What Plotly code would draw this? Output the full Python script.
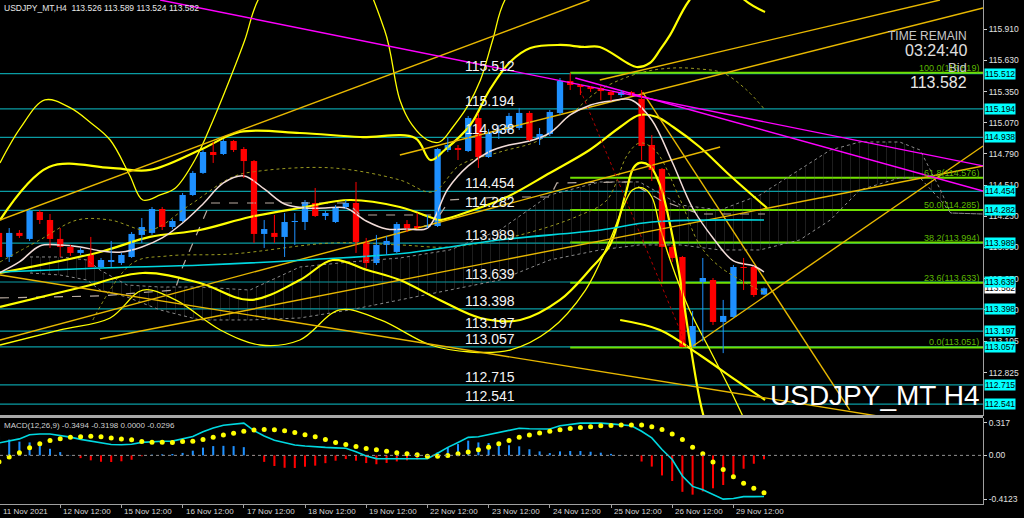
import plotly.graph_objects as go

# ---------------- data ----------------
bar_idx = list(range(76))
opens = [114.080, 113.864, 114.080, 114.026, 114.268, 114.196, 114.026, 113.954, 113.900, 113.882,
         113.774, 113.819, 113.810, 113.864, 114.062, 114.080, 114.295, 114.133, 114.187, 114.421,
         114.619, 114.807, 114.789, 114.906, 114.834, 114.726, 114.071, 114.080, 114.044, 114.178,
         114.178, 114.349, 114.232, 114.178, 114.313, 114.349, 113.999, 113.810, 113.972, 113.909,
         114.160, 114.142, 114.133, 114.142, 114.825, 114.843, 114.816, 115.113, 114.762, 114.978,
         115.005, 115.023, 115.158, 114.924, 114.969, 115.158, 115.445, 115.409, 115.391, 115.382,
         115.346, 115.319, 115.346, 115.284, 114.870, 114.655, 113.954, 113.864, 113.055, 113.639,
         113.657, 113.280, 113.325, 113.774, 113.774, 113.526]
highs = [114.124, 114.124, 114.106, 114.295, 114.286, 114.250, 114.124, 113.972, 113.945, 114.044,
         113.855, 114.008, 113.900, 114.088, 114.214, 114.313, 114.313, 114.205, 114.439, 114.637,
         114.825, 114.897, 114.924, 114.915, 114.852, 114.735, 114.196, 114.241, 114.259, 114.259,
         114.376, 114.484, 114.277, 114.331, 114.376, 114.538, 114.035, 114.062, 114.053, 114.178,
         114.196, 114.259, 114.241, 114.843, 114.933, 114.870, 115.131, 115.158, 115.014, 115.050,
         115.158, 115.203, 115.176, 115.023, 115.185, 115.472, 115.519, 115.418, 115.400, 115.400,
         115.364, 115.364, 115.355, 115.364, 114.960, 114.664, 113.972, 113.873, 113.379, 113.855,
         113.675, 113.478, 113.792, 113.855, 113.783, 113.589]
lows = [113.819, 113.819, 114.035, 114.008, 114.160, 113.945, 113.864, 113.873, 113.882, 113.774,
        113.765, 113.774, 113.792, 113.855, 113.990, 114.062, 114.106, 114.115, 114.178, 114.412,
        114.610, 114.709, 114.780, 114.807, 114.574, 113.990, 113.945, 113.990, 113.864, 113.972,
        114.106, 114.223, 114.196, 114.169, 114.295, 113.900, 113.765, 113.792, 113.882, 113.900,
        114.088, 114.115, 114.124, 114.133, 114.807, 114.735, 114.807, 114.664, 114.753, 114.924,
        114.987, 115.005, 114.906, 114.870, 114.951, 115.140, 115.364, 115.319, 115.346, 115.275,
        115.266, 115.301, 115.310, 114.735, 114.547, 113.639, 113.819, 113.051, 113.052, 113.105,
        113.253, 113.000, 113.316, 113.567, 113.504, 113.524]
closes = [113.864, 114.080, 114.053, 114.277, 114.196, 114.026, 113.954, 113.900, 113.927, 113.774,
          113.837, 113.837, 113.882, 114.071, 114.133, 114.295, 114.133, 114.187, 114.421, 114.619,
          114.807, 114.780, 114.906, 114.825, 114.726, 114.071, 114.115, 114.044, 114.178, 114.187,
          114.358, 114.232, 114.259, 114.313, 114.349, 113.999, 113.810, 113.972, 114.008, 114.160,
          114.124, 114.124, 114.151, 114.834, 114.870, 114.825, 115.113, 114.762, 114.978, 115.005,
          115.131, 115.158, 114.915, 114.969, 115.167, 115.445, 115.409, 115.391, 115.373, 115.355,
          115.319, 115.346, 115.319, 114.861, 114.646, 113.954, 113.855, 113.055, 113.244, 113.675,
          113.280, 113.334, 113.774, 113.765, 113.522, 113.582]

date_tick_idx = [0, 6, 12, 18, 24, 30, 36, 42, 48, 54, 60, 66, 72]
date_tick_text = ["11 Nov 2021", "12 Nov 12:00", "15 Nov 12:00", "16 Nov 12:00", "17 Nov 12:00",
                  "18 Nov 12:00", "19 Nov 12:00", "22 Nov 12:00", "23 Nov 12:00", "24 Nov 12:00",
                  "25 Nov 12:00", "26 Nov 12:00", "29 Nov 12:00"]

price_ticks = [115.910, 115.630, 115.350, 115.070, 114.790, 114.510, 114.230, 113.950, 113.670,
               113.390, 113.105, 112.825]
price_tick_text = ["115.910", "115.630", "115.350", "115.070", "114.790", "114.510", "114.230",
                   "113.950", "113.670", "113.390", "113.105", "112.825"]

levels = [115.512, 115.194, 114.938, 114.454, 114.282, 113.989, 113.639, 113.398, 113.197, 113.057,
          112.715, 112.541]
fib_levels = [115.519, 114.576, 114.285, 113.994, 113.633, 113.051]
fib_names = ["100.0", "61.8", "50.0", "38.2", "23.6", "0.0"]
fib_start_bar = 56

# moving averages (bar index, price)
fast_ma_x = [0, 2, 4, 6, 8, 10, 12, 14, 16, 18, 20, 22, 24, 26, 28, 30, 32, 34, 36, 38, 40, 42, 44,
             46, 48, 50, 52, 54, 56, 58, 60, 62, 64, 66, 68, 70, 72, 74, 75]
fast_ma_y = [113.720, 113.819, 113.963, 113.972, 113.954, 113.918, 113.909, 113.954, 114.035, 114.169,
             114.340, 114.529, 114.592, 114.475, 114.340, 114.304, 114.304, 114.304, 114.187, 114.115,
             114.115, 114.124, 114.475, 114.682, 114.807, 114.870, 114.906, 114.978, 115.140, 115.230,
             115.266, 115.275, 115.095, 114.717, 114.304, 114.035, 113.828, 113.783, 113.729]
slow_ma_x = [0, 10, 20, 30, 40, 49, 59, 64, 75]
slow_ma_y = [113.729, 113.765, 113.792, 113.837, 113.900, 114.017, 114.106, 114.178, 114.196]

# bands (bar index, price)
thick_up_x = [0.1, 4.9, 10.9, 14.8, 19.7, 23.6, 29.5, 35.4, 40.8, 42.3, 43.7, 46.2, 48.1, 50.1, 52.1,
              55.0, 57.3, 58.9, 61.6, 62.5, 63.8, 64.8, 65.8, 67.7, 70.7, 73.1, 75.1]
thick_up_y = [114.196, 114.673, 114.664, 114.646, 114.825, 114.987, 114.978, 114.942, 114.933, 114.735,
              114.825, 115.050, 115.364, 115.616, 115.742, 115.769, 115.751, 115.751, 115.607, 115.571,
              115.607, 115.724, 115.859, 116.173, 116.443, 116.173, 116.065]
thick_mid_x = [0.1, 9.9, 14.8, 19.7, 24.6, 29.5, 34.4, 39.3, 42.5, 43.2, 46.5, 49.8, 54.0, 57.9, 60.9,
               62.8, 64.5, 66.1, 68.7, 71.4, 73.6, 75.3]
thick_mid_y = [113.720, 113.909, 114.044, 114.106, 114.223, 114.304, 114.376, 114.313, 114.214, 114.196,
               114.286, 114.403, 114.619, 114.825, 115.032, 115.140, 115.122, 115.032, 114.852, 114.619,
               114.439, 114.304]
thick_low_x = [0.1, 8.2, 14.1, 19.7, 24.6, 29.5, 32.7, 36.1, 39.3, 43.2, 47.2, 51.1, 55.0, 57.9, 59.9,
               61.4, 62.2, 62.8, 63.8, 64.8, 65.8, 66.8, 67.7, 68.7, 69.3]
thick_low_y = [113.415, 113.594, 113.720, 113.630, 113.478, 113.657, 113.837, 113.747, 113.657, 113.478,
               113.316, 113.298, 113.478, 113.747, 113.972, 114.421, 114.664, 114.709, 114.682, 114.511,
               114.151, 113.657, 113.118, 112.579, 112.355]
thick_low2_x = [60.9, 64.8, 68.7, 72.2, 75.1]
thick_low2_y = [113.298, 113.208, 112.983, 112.759, 112.579]
thin_up_x = [0.1, 2.1, 4.5, 7.0, 8.9, 10.9, 12.8, 14.1, 15.8, 17.3, 19.2, 21.0, 22.6, 24.1, 25.4, 29.5,
             34.4, 37.8, 39.3, 40.5, 42.0, 43.2, 44.5, 45.9, 47.2, 48.4, 49.6, 54.0]
thin_up_y = [114.709, 115.023, 115.275, 115.203, 115.077, 114.915, 114.601, 114.376, 114.421, 114.484,
             114.735, 115.095, 115.454, 115.814, 116.173, 116.712, 116.532, 115.903, 115.275, 115.050,
             114.915, 114.897, 115.032, 115.212, 115.454, 115.814, 116.173, 116.700]
thin_low_x = [0.1, 6.0, 10.9, 14.1, 17.3, 21.7, 25.6, 29.5, 33.4, 37.4, 42.3, 46.2, 50.1, 54.0, 57.5,
              59.9, 61.2, 62.1, 63.1, 64.0, 64.8, 65.8, 67.7, 69.7, 71.7, 73.1]
thin_low_y = [113.073, 113.208, 113.316, 113.567, 113.478, 113.208, 113.073, 113.118, 113.388, 113.298,
              113.073, 113.010, 113.028, 113.208, 113.567, 114.017, 114.313, 114.466, 114.484, 114.403,
              114.133, 113.837, 113.388, 113.028, 112.669, 112.399]
dot_up_x = [0.1, 4.0, 7.65, 10.9, 14.8, 18.7, 22.9, 25.6, 32.7, 39.3, 42.5, 45.2, 49.1, 53.0, 56.0,
            58.9, 62.8, 66.1, 68.7, 71.0, 73.3, 75.1]
dot_up_y = [113.819, 114.017, 114.196, 114.196, 114.106, 114.331, 114.583, 114.637, 114.664, 114.556,
            114.448, 114.690, 114.807, 114.915, 115.140, 115.364, 115.517, 115.562, 115.553, 115.517,
            115.364, 115.185]
dot_low_x = [9.2, 13.1, 16.5, 22.9, 32.7, 39.3, 44.2, 51.1, 57.0, 59.6, 61.6, 62.8, 64.3, 66.8, 68.7,
             70.7, 75.1]
dot_low_y = [113.298, 113.810, 113.873, 113.891, 113.990, 113.972, 113.954, 114.062, 114.241, 114.376,
             114.780, 114.888, 114.825, 114.376, 113.972, 113.774, 113.540]

# ichimoku cloud spans and base line (bar index, price)
cloud_x = [3.04, 5.98, 8.63, 9.9, 12.55, 15.8, 19.7, 24.6, 29.5, 34.4, 39.3, 44.2, 49.1, 54.0, 58.9,
           62.8, 66.8, 70.7, 74.6, 78.5, 81.5, 84.4, 88.3, 90.3, 92.3, 93.3, 96.47]
span_a = [113.864, 113.864, 113.837, 113.747, 113.612, 113.594, 113.594, 113.567, 113.774, 113.819,
          113.855, 113.927, 114.106, 114.421, 114.538, 114.538, 114.331, 114.286, 114.421, 114.646,
          114.825, 114.897, 114.897, 114.825, 114.466, 114.259, 114.250]
span_b = [113.720, 113.702, 113.657, 113.567, 113.504, 113.388, 113.298, 113.298, 113.316, 113.388,
          113.478, 113.567, 113.657, 113.837, 113.927, 113.972, 113.972, 113.927, 113.927, 114.017,
          114.196, 114.466, 114.574, 114.574, 114.376, 114.259, 114.250]
kijun_x = [0.1, 9.9, 17.25, 18.0, 20.7, 34.2, 35.4, 43.2, 44.2, 49.1, 54.0, 54.7, 61.9, 64.8, 68.7, 75.1]
kijun_y = [113.496, 113.514, 113.567, 113.774, 114.349, 114.349, 114.241, 114.241, 114.376, 114.403,
           114.403, 114.529, 114.538, 114.376, 114.250, 114.250]

# trend lines: (bar0, price0, bar1, price1)
gold_lines = [(0.1, 113.702, 96.47, 112.283), (67.75, 113.046, 96.47, 114.861),
              (9.9, 113.127, 96.47, 114.682), (0.1, 113.118, 70.7, 114.852),
              (0.1, 114.196, 57.9, 116.173), (39.3, 114.780, 96.47, 116.101),
              (58.9, 115.454, 92.25, 116.173), (63.1, 115.346, 83.4, 112.489)]
magenta_lines = [(15.8, 116.173, 96.47, 114.682), (56.5, 115.472, 96.47, 114.457)]
zigzag_line = (57.0, 115.364, 67.45, 113.055)

# MACD
macd_main = [0.106, 0.120, 0.140, 0.175, 0.182, 0.182, 0.170, 0.155, 0.136, 0.120,
             0.105, 0.092, 0.090, 0.095, 0.110, 0.117, 0.120, 0.121, 0.138, 0.160,
             0.200, 0.232, 0.255, 0.266, 0.274, 0.210, 0.165, 0.128, 0.105, 0.088,
             0.080, 0.072, 0.068, 0.064, 0.061, 0.030, -0.006, -0.027, -0.028, -0.028,
             -0.028, -0.028, -0.028, 0.018, 0.068, 0.110, 0.153, 0.158, 0.175, 0.193,
             0.212, 0.230, 0.226, 0.224, 0.224, 0.252, 0.266, 0.274, 0.274, 0.274,
             0.267, 0.259, 0.252, 0.205, 0.148, 0.050, -0.035, -0.175, -0.263, -0.292,
             -0.335, -0.371, -0.366, -0.350, -0.350, -0.349]
macd_signal = [-0.056, -0.014, 0.023, 0.065, 0.098, 0.126, 0.142, 0.153, 0.159, 0.162,
               0.159, 0.148, 0.140, 0.132, 0.117, 0.111, 0.111, 0.109, 0.117, 0.120,
               0.134, 0.153, 0.174, 0.187, 0.204, 0.215, 0.220, 0.218, 0.210, 0.195,
               0.176, 0.159, 0.134, 0.109, 0.092, 0.075, 0.059, 0.048, 0.036, 0.023,
               0.014, 0.006, -0.008, -0.008, 0.000, 0.014, 0.028, 0.048, 0.070, 0.098,
               0.126, 0.153, 0.174, 0.190, 0.204, 0.218, 0.229, 0.237, 0.243, 0.251,
               0.254, 0.257, 0.257, 0.257, 0.243, 0.220, 0.182, 0.134, 0.070, 0.014,
               -0.056, -0.120, -0.182, -0.237, -0.279, -0.316]
macd_hist = [m - s for m, s in zip(macd_main, macd_signal)]

# ---------------- figure ----------------
X0, X1 = 0.098, 96.47
Y0, Y1 = 112.435, 116.173
M0, M1 = -0.4123, 0.317
FONT = "Liberation Sans"
BLUE = "#1E90FF"
RED = "#FF0000"
YEL = "#FFFF00"
GOLD = "#E8B800"

fig = go.Figure()

def line(xs, ys, color, width, dash="solid", shape="spline", **kw):
    fig.add_trace(go.Scatter(x=xs, y=ys, mode="lines", line=dict(color=color, width=width, dash=dash,
                  shape=shape), hoverinfo="skip", showlegend=False, xaxis="x", yaxis="y", **kw))

# ichimoku cloud (hatched)
line(cloud_x, span_b, "#8A8A8A", 1, dash="dot", shape="linear")
line(cloud_x, span_a, "#8A8A8A", 1, dash="dot", shape="linear", fill="tonexty",
     fillcolor="rgba(0,0,0,0)",
     fillpattern=dict(shape="|", fgcolor="#5E5E5E", bgcolor="rgba(0,0,0,0)", size=9, solidity=0.07))
line(kijun_x, kijun_y, "#B8AAA0", 1.2, dash="dash", shape="linear")

# dotted olive bands
line(dot_up_x, dot_up_y, "#9A9A20", 1, dash="dot")
line(dot_low_x, dot_low_y, "#9A9A20", 1, dash="dot")

# bands
line(thin_up_x, thin_up_y, YEL, 1.3)
line(thin_low_x, thin_low_y, YEL, 1.3)
line(thick_up_x, thick_up_y, YEL, 2.2)
line(thick_mid_x, thick_mid_y, YEL, 2.2)
line(thick_low_x, thick_low_y, YEL, 2.2)
line(thick_low2_x, thick_low2_y, YEL, 2.2)

# trend lines
for (a, b, c, d) in gold_lines:
    line([a, c], [b, d], GOLD, 1.4, shape="linear")
for (a, b, c, d) in magenta_lines:
    line([a, c], [b, d], "#FF00FF", 1.4, shape="linear")
line([zigzag_line[0], zigzag_line[2]], [zigzag_line[1], zigzag_line[3]], "#B00000", 1, dash="dot",
     shape="linear")

# moving averages
line(slow_ma_x, slow_ma_y, "#00D8E0", 1.6)
line(fast_ma_x, fast_ma_y, "#F2DCD8", 1.5)

# candles: wicks + bodies
up = [c >= o for o, c in zip(opens, closes)]
for is_up, col in [(True, BLUE), (False, RED)]:
    wx, wy = [], []
    for i in bar_idx:
        if up[i] == is_up:
            wx += [i, i, None]
            wy += [lows[i], highs[i], None]
    fig.add_trace(go.Scatter(x=wx, y=wy, mode="lines", line=dict(color=col, width=1),
                             hoverinfo="skip", showlegend=False, xaxis="x", yaxis="y"))
    bx = [i for i in bar_idx if up[i] == is_up]
    base = [min(opens[i], closes[i]) for i in bx]
    hgt = [max(abs(closes[i] - opens[i]), 0.004) for i in bx]
    fig.add_trace(go.Bar(x=bx, y=hgt, base=base, width=0.62, marker=dict(color=col, line=dict(width=0)),
                         hoverinfo="skip", showlegend=False, xaxis="x", yaxis="y"))

# MACD
fig.add_trace(go.Bar(x=bar_idx, y=macd_hist, width=0.2,
                     marker=dict(color=[BLUE if h >= 0 else RED for h in macd_hist], line=dict(width=0)),
                     hoverinfo="skip", showlegend=False, xaxis="x2", yaxis="y2"))
fig.add_trace(go.Scatter(x=bar_idx, y=macd_main, mode="lines", line=dict(color="#00D8E0", width=1.6),
                         hoverinfo="skip", showlegend=False, xaxis="x2", yaxis="y2"))
fig.add_trace(go.Scatter(x=bar_idx, y=macd_signal, mode="markers", marker=dict(color=YEL, size=5),
                         hoverinfo="skip", showlegend=False, xaxis="x2", yaxis="y2"))

shapes = []
for lv in levels:
    shapes.append(dict(type="line", xref="paper", x0=0, x1=1, yref="y", y0=lv, y1=lv,
                       line=dict(color="#0A9CA4", width=1.2), layer="below"))
for lv in fib_levels:
    shapes.append(dict(type="line", xref="x", x0=fib_start_bar, x1=X1, yref="y", y0=lv, y1=lv,
                       line=dict(color="#70E000", width=2), layer="below"))
shapes.append(dict(type="line", xref="paper", x0=0, x1=1, yref="y2", y0=0, y1=0,
                   line=dict(color="#909090", width=1, dash="dot")))
shapes.append(dict(type="line", xref="paper", x0=0, x1=1.0, yref="paper", y0=0.1736, y1=0.1736,
                   line=dict(color="#A8A8A8", width=3)))

ann = []
for lv in levels:
    ann.append(dict(x=45.5, y=lv, xref="x", yref="y", text=f"{lv:.3f}", showarrow=False,
                    xanchor="left", yanchor="bottom", yshift=-2,
                    font=dict(family=FONT, size=14, color="#F4F4F4")))
for lv, nm in zip(fib_levels, fib_names):
    ann.append(dict(x=1, y=lv, xref="paper", yref="y", text=f"{nm}({lv:.3f})", showarrow=False,
                    xanchor="right", yanchor="bottom", xshift=-2, yshift=-2,
                    font=dict(family=FONT, size=9, color="#5DB800")))
ann.append(dict(x=1, y=113.582, xref="paper", yref="y", text="113.582", showarrow=False, xanchor="left",
                xshift=1, bgcolor="#FFFFFF", borderpad=0, font=dict(family=FONT, size=8.5, color="#000000")))
for lv in levels:
    ann.append(dict(x=1, y=lv, xref="paper", yref="y", text=f"{lv:.3f}", showarrow=False, xanchor="left",
                    xshift=1, bgcolor="#00FFFF", borderpad=0, font=dict(family=FONT, size=8.5, color="#000000")))
for i, t in zip(date_tick_idx, date_tick_text):
    ann.append(dict(x=max(i, 0.1), y=-0.014, xref="x2", yref="paper", text=t, showarrow=False,
                    xanchor="left", yanchor="middle", xshift=1,
                    font=dict(family=FONT, size=8, color="#D8D8D8")))
ann.append(dict(x=0.002, y=1, xref="paper", yref="paper", yshift=-1, xanchor="left", yanchor="top",
                text="USDJPY_MT,H4  113.526 113.589 113.524 113.582", showarrow=False,
                font=dict(family=FONT, size=8.5, color="#E8E8E8")))
ann.append(dict(x=0.002, y=0.1706, xref="paper", yref="paper", yshift=-1, xanchor="left", yanchor="top",
                text="MACD(12,26,9) -0.3494 -0.3198 0.0000 -0.0296", showarrow=False,
                font=dict(family=FONT, size=8, color="#D0D0D0")))
ann.append(dict(x=0.986, y=1, xref="paper", yref="paper", yshift=-27, xanchor="right", yanchor="top",
                text="TIME REMAIN", showarrow=False, font=dict(family=FONT, size=12, color="#C8C8C8")))
ann.append(dict(x=0.986, y=1, xref="paper", yref="paper", yshift=-40, xanchor="right", yanchor="top",
                text="03:24:40", showarrow=False, font=dict(family=FONT, size=16, color="#E0E0E0")))
ann.append(dict(x=0.986, y=1, xref="paper", yref="paper", yshift=-58, xanchor="right", yanchor="top",
                text="Bid", showarrow=False, font=dict(family=FONT, size=13, color="#C8C8C8")))
ann.append(dict(x=0.986, y=1, xref="paper", yref="paper", yshift=-72, xanchor="right", yanchor="top",
                text="113.582", showarrow=False, font=dict(family=FONT, size=16, color="#E8E8E8")))
ann.append(dict(x=0.999, y=0.1736, xref="paper", yref="paper", yshift=4, xanchor="right", yanchor="bottom",
                text="USDJPY_MT H4", showarrow=False, font=dict(family=FONT, size=28, color="#FFFFFF")))

fig.update_layout(
    width=1024, height=518, paper_bgcolor="#000000", plot_bgcolor="#000000",
    margin=dict(l=0, r=41, t=0, b=14), barmode="overlay", showlegend=False,
    shapes=shapes, annotations=ann,
    xaxis=dict(domain=[0, 1], range=[X0, X1], anchor="y", showgrid=False, zeroline=False,
               showticklabels=False, ticks="", fixedrange=True),
    xaxis2=dict(domain=[0, 1], range=[X0, X1], anchor="y2", matches="x", showgrid=False, zeroline=False,
                tickvals=date_tick_idx, ticktext=["" for _ in date_tick_idx], ticks="outside", ticklen=3,
                tickcolor="#A0A0A0", showline=True, linecolor="#A0A0A0", linewidth=1),
    yaxis=dict(domain=[0.1746, 1], range=[Y0, Y1], side="right", anchor="x", showgrid=False,
               zeroline=False, tickvals=price_ticks, ticktext=price_tick_text, ticks="outside",
               ticklen=3, tickcolor="#D0D0D0", showline=True, linecolor="#A0A0A0", linewidth=1,
               tickfont=dict(family=FONT, size=8.5, color="#E0E0E0")),
    yaxis2=dict(domain=[0, 0.1706], range=[M0, M1], side="right", anchor="x2", showgrid=False,
                zeroline=False, tickvals=[0.275, 0.0, -0.370], ticktext=["0.317", "0.00", "-0.4123"],
                ticks="outside", ticklen=3, tickcolor="#D0D0D0", showline=True, linecolor="#A0A0A0",
                linewidth=1, tickfont=dict(family=FONT, size=8.5, color="#E0E0E0")),
)

fig.write_html("out.html", config={"displayModeBar": False, "staticPlot": True},
               post_script="document.body.style.margin='0';document.body.style.padding='0';"
               "document.documentElement.style.background='#000';")
